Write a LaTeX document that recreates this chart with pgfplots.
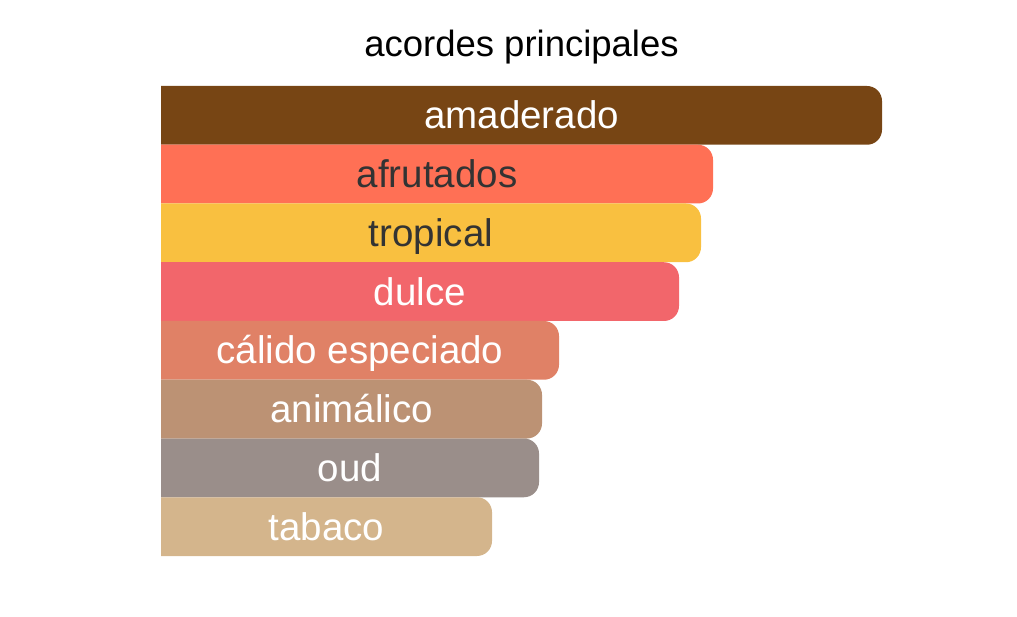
\documentclass[border=0pt]{standalone}
\usepackage{pgfplots}
\pgfplotsset{compat=1.18}
\usepackage{fontspec}
\setmainfont{Liberation Sans}
\definecolor{cAma}{HTML}{774514}
\definecolor{cAfr}{HTML}{FF7055}
\definecolor{cTro}{HTML}{F9C040}
\definecolor{cDul}{HTML}{F2666B}
\definecolor{cCal}{HTML}{E08166}
\definecolor{cAni}{HTML}{BC9274}
\definecolor{cOud}{HTML}{9A8E8A}
\definecolor{cTab}{HTML}{D4B58C}
\definecolor{cDark}{HTML}{333333}
\begin{document}
\begin{tikzpicture}
\path[use as bounding box] (0,0) rectangle (1017pt,616pt);
\begin{axis}[
  at={(161pt,60pt)}, anchor=south west,
  scale only axis, width=721pt, height=470pt,
  xmin=20, xmax=741, ymin=-0.5, ymax=7.5,
  axis line style={draw=none}, xtick=\empty, ytick=\empty,
  title={acordes principales},
  title style={at={(0.5,1)}, anchor=base, yshift=23pt, font=\fontsize{36.5}{40}\selectfont, text=black},
  every node near coord/.append style={anchor=base, yshift=-13.5pt, font=\fontsize{38.5}{42}\selectfont},
]
\pgfplotsset{mybar/.style={draw=none, rounded corners=15pt, mark=none}}
% each bar: from 0 (clipped at xmin=20, hiding the left rounding) to its value
\addplot[mybar, fill=cAma] coordinates {(0,6.5) (741,6.5) (741,7.5) (0,7.5)} -- cycle;
\addplot[mybar, fill=cAfr] coordinates {(0,5.5) (572,5.5) (572,6.5) (0,6.5)} -- cycle;
\addplot[mybar, fill=cTro] coordinates {(0,4.5) (560,4.5) (560,5.5) (0,5.5)} -- cycle;
\addplot[mybar, fill=cDul] coordinates {(0,3.5) (538,3.5) (538,4.5) (0,4.5)} -- cycle;
\addplot[mybar, fill=cCal] coordinates {(0,2.5) (418,2.5) (418,3.5) (0,3.5)} -- cycle;
\addplot[mybar, fill=cAni] coordinates {(0,1.5) (401,1.5) (401,2.5) (0,2.5)} -- cycle;
\addplot[mybar, fill=cOud] coordinates {(0,0.5) (398,0.5) (398,1.5) (0,1.5)} -- cycle;
\addplot[mybar, fill=cTab] coordinates {(0,-0.5) (351,-0.5) (351,0.5) (0,0.5)} -- cycle;
% labels (centre of the visible bar)
\addplot[draw=none, mark=none, nodes near coords, point meta=explicit symbolic,
  every node near coord/.append style={text=white}] coordinates {
  (380.5,7) [amaderado]
  (279,4) [dulce]
  (219,3) [cálido especiado]
  (210.5,2) [animálico]
  (209,1) [oud]
  (185.5,0) [tabaco]
};
\addplot[draw=none, mark=none, nodes near coords, point meta=explicit symbolic,
  every node near coord/.append style={text=cDark}] coordinates {
  (296,6) [afrutados]
  (290,5) [tropical]
};
\end{axis}
\end{tikzpicture}
\end{document}
